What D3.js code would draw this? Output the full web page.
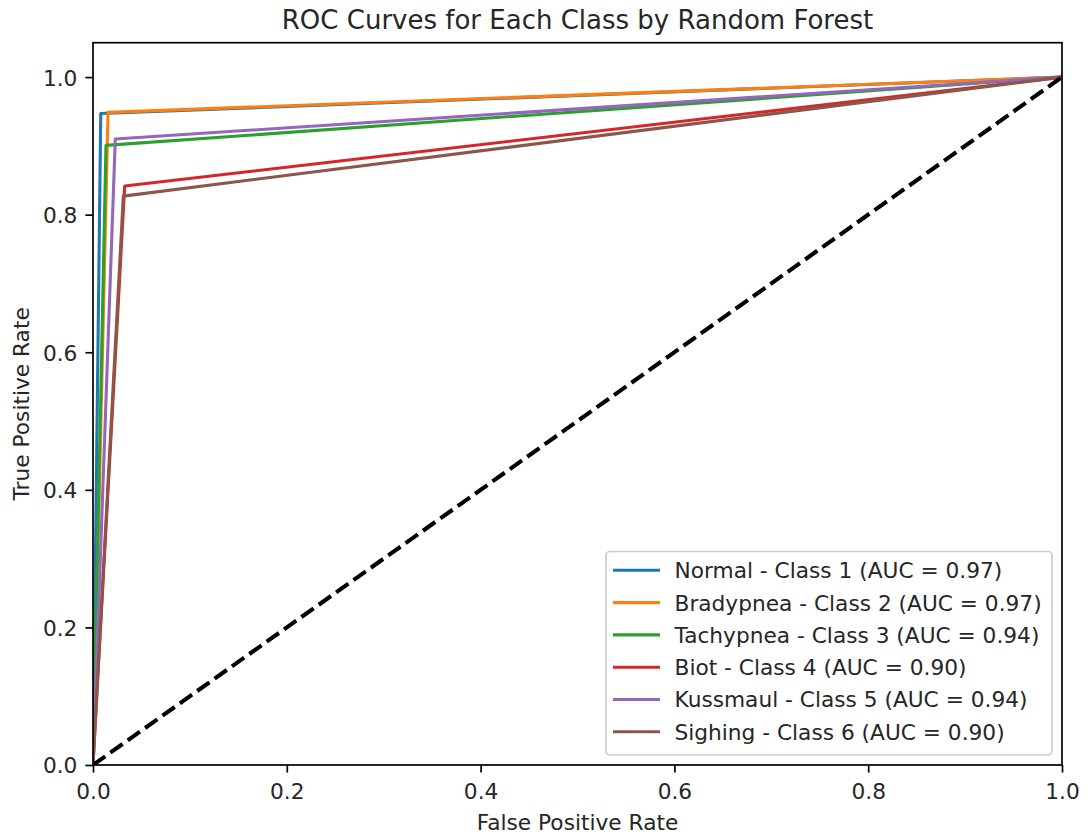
<!DOCTYPE html>
<html>
<head>
<meta charset="utf-8">
<script src="https://cdn.jsdelivr.net/npm/d3@7"></script>
<style>
  html, body { margin: 0; padding: 0; background: #fff; }
  svg { display: block; font-family: "DejaVu Sans", sans-serif; }
</style>
</head>
<body>
<svg id="chart" width="1088" height="837"></svg>
<script>
// ---- data ----
const classNames = ["Normal", "Bradypnea", "Tachypnea", "Biot", "Kussmaul", "Sighing"];
const classIds = [1, 2, 3, 4, 5, 6];
const aucValues = ["0.97", "0.97", "0.94", "0.90", "0.94", "0.90"];
// ROC corner points (operating point) for each class; curves go (0,0) -> corner -> (1,1)
const cornerFpr = [0.008, 0.0155, 0.0134, 0.0327, 0.023, 0.0313];
const cornerTpr = [0.947, 0.9487, 0.9007, 0.8416, 0.910, 0.827];
const colors = ["#1f77b4", "#ff7f0e", "#2ca02c", "#d62728", "#9467bd", "#8c564b"];
const xTicks = [0.0, 0.2, 0.4, 0.6, 0.8, 1.0];
const yTicks = [0.0, 0.2, 0.4, 0.6, 0.8, 1.0];
const titleText = "ROC Curves for Each Class by Random Forest";
const xLabel = "False Positive Rate";
const yLabel = "True Positive Rate";

// ---- layout ----
const svg = d3.select("#chart");
const L = 93, R = 1062, T = 42.7, B = 765;
const x = d3.scaleLinear().domain([0, 1]).range([L, R]);
const y = d3.scaleLinear().domain([0, 1.05]).range([B, T]);
const fs = 21.7;
const tick = 7.6;

svg.append("defs").append("clipPath").attr("id", "plotclip")
  .append("rect").attr("x", L).attr("y", T).attr("width", R - L).attr("height", B - T);

const line = d3.line().x(d => x(d[0])).y(d => y(d[1]));
const curves = classNames.map((n, i) => [[0, 0], [cornerFpr[i], cornerTpr[i]], [1, 1]]);

const plot = svg.append("g").attr("clip-path", "url(#plotclip)");
curves.forEach((c, i) => {
  plot.append("path").attr("d", line(c)).attr("fill", "none")
    .attr("stroke", colors[i]).attr("stroke-width", 3.1)
    .attr("stroke-linejoin", "round").attr("stroke-linecap", "butt");
});
plot.append("path").attr("d", line([[0, 0], [1, 1]])).attr("fill", "none")
  .attr("stroke", "#000").attr("stroke-width", 4.1)
  .attr("stroke-dasharray", "15,6.3");

// axes
const xAxis = d3.axisBottom(x).tickValues(xTicks).tickFormat(d3.format(".1f"))
  .tickSizeInner(tick).tickSizeOuter(0).tickPadding(8);
const yAxis = d3.axisLeft(y).tickValues(yTicks).tickFormat(d3.format(".1f"))
  .tickSizeInner(tick).tickSizeOuter(0).tickPadding(8);
const gx = svg.append("g").attr("transform", `translate(0,${B})`).call(xAxis);
const gy = svg.append("g").attr("transform", `translate(${L},0)`).call(yAxis);
[gx, gy].forEach(g => {
  g.select(".domain").remove();
  g.selectAll(".tick line").attr("stroke", "#000").attr("stroke-width", 1.7);
  g.selectAll(".tick text").attr("fill", "#262626").style("font-size", fs + "px")
    .style("font-family", "DejaVu Sans, sans-serif");
});
gx.selectAll(".tick text").attr("y", 34).attr("dy", "0");
gy.selectAll(".tick text").attr("dy", "0.365em");

// frame
svg.append("rect").attr("x", L).attr("y", T).attr("width", R - L).attr("height", B - T)
  .attr("fill", "none").attr("stroke", "#000").attr("stroke-width", 1.7);

// title and labels
svg.append("text").attr("x", (L + R) / 2).attr("y", 29.3).attr("text-anchor", "middle")
  .style("font-size", "26px").attr("fill", "#262626").text(titleText);
svg.append("text").attr("x", (L + R) / 2).attr("y", 830).attr("text-anchor", "middle")
  .style("font-size", fs + "px").attr("fill", "#262626").text(xLabel);
svg.append("text").attr("transform", `translate(28.5,${(T + B) / 2}) rotate(-90)`)
  .attr("text-anchor", "middle").style("font-size", fs + "px").attr("fill", "#262626").text(yLabel);

// legend
const lg = svg.append("g");
lg.append("rect").attr("x", 606).attr("y", 551.5).attr("width", 446).attr("height", 203.5)
  .attr("rx", 4).attr("fill", "#fff").attr("fill-opacity", 0.8)
  .attr("stroke", "#cccccc").attr("stroke-width", 1.7);
classNames.forEach((n, i) => {
  const cy = 570.3 + i * 32.3;
  lg.append("line").attr("x1", 613).attr("x2", 660).attr("y1", cy).attr("y2", cy)
    .attr("stroke", colors[i]).attr("stroke-width", 3.1);
  lg.append("text").attr("x", 674.5).attr("y", cy).attr("dy", "0.365em")
    .style("font-size", fs + "px").attr("fill", "#262626")
    .text(`${n} - Class ${classIds[i]} (AUC = ${aucValues[i]})`);
});
</script>
</body>
</html>
